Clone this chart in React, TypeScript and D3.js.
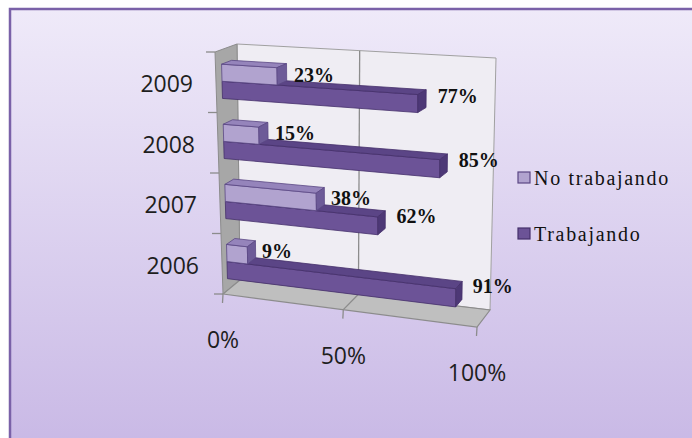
import * as d3 from "d3";
import { useEffect } from "react";

const YEARS = ["2006", "2007", "2008", "2009"];
const SERIES = ["Trabajando", "No trabajando"];
const TRABAJANDO = [91, 62, 85, 77];
const NO_TRABAJANDO = [9, 38, 15, 23];
const VALUE_TICKS = [0, 50, 100];

const W = 692;
const H = 438;

// corners of the 3D box on screen: front plane and back wall
const FRONT = { tl: [215, 52], bl: [223, 294], br: [477, 327], tr: [478, 68] };
const BACK = { tl: [237, 44], bl: [240, 280], br: [490, 310], tr: [496, 58] };
const BAR_D0 = 0.28;
const BAR_D1 = 0.74;

const COLORS: Record<string, { front: string; top: string; end: string; stroke: string }> = {
  Trabajando: { front: "#6c5397", top: "#5b4586", end: "#4d3876", stroke: "#45306b" },
  "No trabajando": { front: "#b1a3cf", top: "#9584bb", end: "#6d5b98", stroke: "#5a4784" },
};

const xScale = d3.scaleLinear().domain([0, 100]).range([0, 1]);
const catScale = d3.scaleBand().domain(YEARS).range([0, 1]).padding(0);
const serScale = d3
  .scaleBand()
  .domain(SERIES)
  .range([0.19 * catScale.bandwidth(), 0.76 * catScale.bandwidth()]);

// the right side sits a bit farther away
const persp = (t: number) => (t * 0.9) / (t * 0.9 + 1 - t);

function quad(q: typeof FRONT, u: number, h: number) {
  const bx = q.bl[0] + u * (q.br[0] - q.bl[0]);
  const by = q.bl[1] + u * (q.br[1] - q.bl[1]);
  const tx = q.tl[0] + u * (q.tr[0] - q.tl[0]);
  const ty = q.tl[1] + u * (q.tr[1] - q.tl[1]);
  return [bx + h * (tx - bx), by + h * (ty - by)];
}

function P(value: number, h: number, d: number): [number, number] {
  const u = persp(xScale(value));
  const f = quad(FRONT, u, h);
  const b = quad(BACK, u, h);
  return [f[0] + d * (b[0] - f[0]), f[1] + d * (b[1] - f[1])];
}

const poly = (pts: [number, number][]) => (d3.line()(pts) || "") + "Z";

export default function App() {
  useEffect(() => {
    document.body.style.margin = "0";
  }, []);

  const bars: { series: string; year: string; value: number }[] = [];
  YEARS.forEach((y, i) => {
    bars.push({ series: "Trabajando", year: y, value: TRABAJANDO[i] });
    bars.push({ series: "No trabajando", year: y, value: NO_TRABAJANDO[i] });
  });

  const gridVals = [50];

  return (
    <svg width={W} height={H} style={{ display: "block" }}>
      <defs>
        <linearGradient id="bg" x1="0" y1="0" x2="0" y2="1">
          <stop offset="0" stopColor="#efeaf9" />
          <stop offset="1" stopColor="#c6b5e4" />
        </linearGradient>
      </defs>
      <rect x={0} y={0} width={W} height={H} fill="#fff" />
      <rect x={10} y={9} width={720} height={470} fill="url(#bg)" stroke="#7a61a8" strokeWidth={2.5} />

      {/* back wall */}
      <path d={poly([P(0, 0, 1), P(100, 0, 1), P(100, 1, 1), P(0, 1, 1)])} fill="#efedf3" stroke="#a0a0a0" strokeWidth={1} />
      {/* side wall */}
      <path d={poly([P(0, 0, 0), P(0, 0, 1), P(0, 1, 1), P(0, 1, 0)])} fill="#a7a7a7" stroke="#8c8c8c" strokeWidth={1} />
      {/* floor */}
      <path d={poly([P(0, 0, 0), P(100, 0, 0), P(100, 0, 1), P(0, 0, 1)])} fill="#bfbfbf" stroke="#8c8c8c" strokeWidth={1.2} />

      {gridVals.map((v) => (
        <g key={v} fill="none" stroke="#8c8c8c" strokeWidth={1.3}>
          <path d={d3.line()([P(v, 0, 1), P(v, 1, 1)]) || ""} />
          <path d={d3.line()([P(v, 0, 0), P(v, 0, 1)]) || ""} />
        </g>
      ))}

      {/* value ticks */}
      {VALUE_TICKS.map((v) => {
        const [px, py] = P(v, 0, 0);
        return <line key={v} x1={px} y1={py} x2={px - 0.5} y2={py + 9} stroke="#8c8c8c" strokeWidth={1.3} />;
      })}
      {/* category ticks */}
      {[0, 0.25, 0.5, 0.75, 1].map((h) => {
        const [px, py] = P(0, h, 0);
        return <line key={h} x1={px} y1={py} x2={px - 9} y2={py} stroke="#8c8c8c" strokeWidth={1.3} />;
      })}

      {/* bars */}
      {bars.map((b) => {
        const h0 = (catScale(b.year) || 0) + (serScale(b.series) || 0);
        const h1 = h0 + serScale.bandwidth();
        const c = COLORS[b.series];
        const v = b.value;
        return (
          <g key={b.series + b.year} stroke={c.stroke} strokeWidth={0.8} strokeLinejoin="round">
            <path d={poly([P(0, h0, BAR_D0), P(v, h0, BAR_D0), P(v, h1, BAR_D0), P(0, h1, BAR_D0)])} fill={c.front} />
            <path d={poly([P(0, h1, BAR_D0), P(v, h1, BAR_D0), P(v, h1, BAR_D1), P(0, h1, BAR_D1)])} fill={c.top} />
            <path d={poly([P(v, h0, BAR_D0), P(v, h0, BAR_D1), P(v, h1, BAR_D1), P(v, h1, BAR_D0)])} fill={c.end} />
          </g>
        );
      })}

      {/* data labels */}
      {bars.map((b) => {
        const hm = (catScale(b.year) || 0) + (serScale(b.series) || 0) + serScale.bandwidth() / 2;
        const [px, py] = P(b.value, hm, 1);
        const off = b.series === "Trabajando" ? [7, 7] : [2, 12];
        return (
          <text
            key={"l" + b.series + b.year}
            x={px + off[0]}
            y={py + off[1]}
            fontFamily="'Liberation Serif', 'Times New Roman', serif"
            fontWeight="bold"
            fontSize={20}
            fill="#111"
          >
            {b.value}%
          </text>
        );
      })}

      {/* category labels */}
      {YEARS.map((y) => {
        const [px, py] = P(0, (catScale(y) || 0) + catScale.bandwidth() / 2, 0);
        return (
          <text key={y} x={px - 23} y={py + 10} textAnchor="end" fontFamily="'Open Sans', sans-serif" fontSize={23} fill="#1e1e1e">
            {y}
          </text>
        );
      })}

      {/* value labels */}
      {VALUE_TICKS.map((v) => {
        const [px, py] = P(v, 0, 0);
        return (
          <text key={v} x={px} y={py + 54} textAnchor="middle" fontFamily="'Open Sans', sans-serif" fontSize={23} fill="#1e1e1e">
            {v}%
          </text>
        );
      })}

      {/* legend */}
      {["No trabajando", "Trabajando"].map((s, i) => (
        <g key={s} transform={`translate(518, ${172 + i * 56})`}>
          <rect x={0} y={0} width={12} height={11} fill={COLORS[s].front} stroke={COLORS[s].stroke} strokeWidth={1.2} />
          <text x={16} y={13} fontFamily="'Liberation Serif', 'Times New Roman', serif" fontSize={20} letterSpacing={1.7} fill="#111">
            {s}
          </text>
        </g>
      ))}
    </svg>
  );
}
